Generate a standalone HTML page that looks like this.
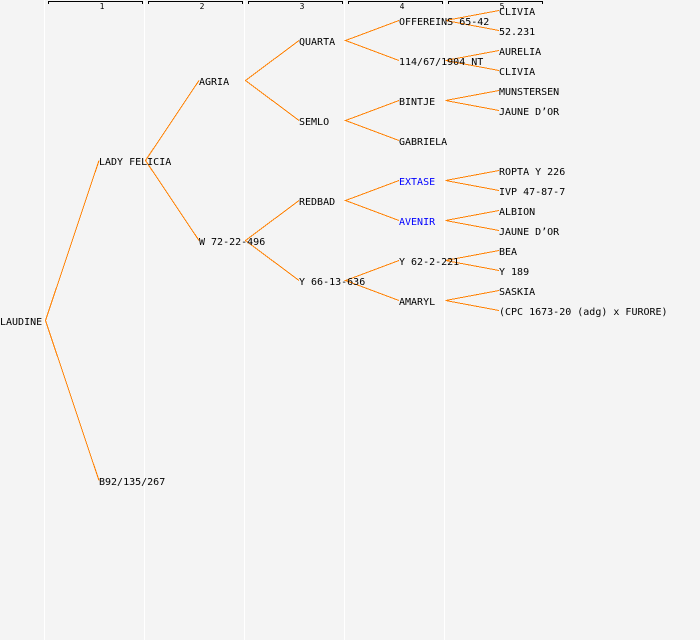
<!DOCTYPE html>
<html><head><meta charset="utf-8"><style>
html,body{margin:0;padding:0;background:#f4f4f4}
svg{display:block}
text{font-family:"DejaVu Sans Mono","Liberation Mono",monospace;font-size:10px;fill:#000}
.n{font-size:8px}
.b{fill:#0000ff}
</style></head><body>
<svg width="700" height="640" viewBox="0 0 700 640" xmlns="http://www.w3.org/2000/svg">
<rect width="700" height="640" fill="#f4f4f4"/>
<g stroke="#fff" stroke-width="1" shape-rendering="crispEdges">
<path d="M44.5 0V640M144.5 0V640M244.5 0V640M344.5 0V640M444.5 0V640"/>
</g>
<g stroke="#000" fill="none" stroke-width="1" shape-rendering="crispEdges">
<path d="M48.5 4V1.5H142.5V4M148.5 4V1.5H242.5V4M248.5 4V1.5H342.5V4M348.5 4V1.5H442.5V4M448.5 4V1.5H542.5V4"/>
</g>
<g class="n" text-anchor="middle">
<text class="n" x="102" y="9">1</text><text class="n" x="202" y="9">2</text><text class="n" x="302" y="9">3</text><text class="n" x="402" y="9">4</text><text class="n" x="502" y="9">5</text>
</g>
<g stroke="#ff8000" fill="none" stroke-width="1" shape-rendering="crispEdges">
<path d="M99 160.5L45.5 320.5L99 480.5"/>
<path d="M199 80.5L145.5 160.5L199 240.5"/>
<path d="M299 40.5L245.5 80.5L299 120.5"/>
<path d="M299 200.5L245.5 240.5L299 280.5"/>
<path d="M399 20.5L345.5 40.5L399 60.5"/>
<path d="M399 100.5L345.5 120.5L399 140.5"/>
<path d="M399 180.5L345.5 200.5L399 220.5"/>
<path d="M399 260.5L345.5 280.5L399 300.5"/>
<path d="M499 10.5L445.5 20.5L499 30.5"/>
<path d="M499 50.5L445.5 60.5L499 70.5"/>
<path d="M499 90.5L445.5 100.5L499 110.5"/>
<path d="M499 170.5L445.5 180.5L499 190.5"/>
<path d="M499 210.5L445.5 220.5L499 230.5"/>
<path d="M499 250.5L445.5 260.5L499 270.5"/>
<path d="M499 290.5L445.5 300.5L499 310.5"/>
</g>
<text x="0" y="325">LAUDINE</text>
<text x="99" y="165">LADY FELICIA</text>
<text x="99" y="485">B92/135/267</text>
<text x="199" y="85">AGRIA</text>
<text x="199" y="245">W 72-22-496</text>
<text x="299" y="45">QUARTA</text>
<text x="299" y="125">SEMLO</text>
<text x="299" y="205">REDBAD</text>
<text x="299" y="285">Y 66-13-636</text>
<text x="399" y="25">OFFEREINS 65-42</text>
<text x="399" y="65">114/67/1904 NT</text>
<text x="399" y="105">BINTJE</text>
<text x="399" y="145">GABRIELA</text>
<text class="b" x="399" y="185">EXTASE</text>
<text class="b" x="399" y="225">AVENIR</text>
<text x="399" y="265">Y 62-2-221</text>
<text x="399" y="305">AMARYL</text>
<text x="499" y="15">CLIVIA</text>
<text x="499" y="35">52.231</text>
<text x="499" y="55">AURELIA</text>
<text x="499" y="75">CLIVIA</text>
<text x="499" y="95">MUNSTERSEN</text>
<text x="499" y="115">JAUNE D’OR</text>
<text x="499" y="175">ROPTA Y 226</text>
<text x="499" y="195">IVP 47-87-7</text>
<text x="499" y="215">ALBION</text>
<text x="499" y="235">JAUNE D’OR</text>
<text x="499" y="255">BEA</text>
<text x="499" y="275">Y 189</text>
<text x="499" y="295">SASKIA</text>
<text x="499" y="315">(CPC 1673-20 (adg) x FURORE)</text>
</svg>
</body></html>
